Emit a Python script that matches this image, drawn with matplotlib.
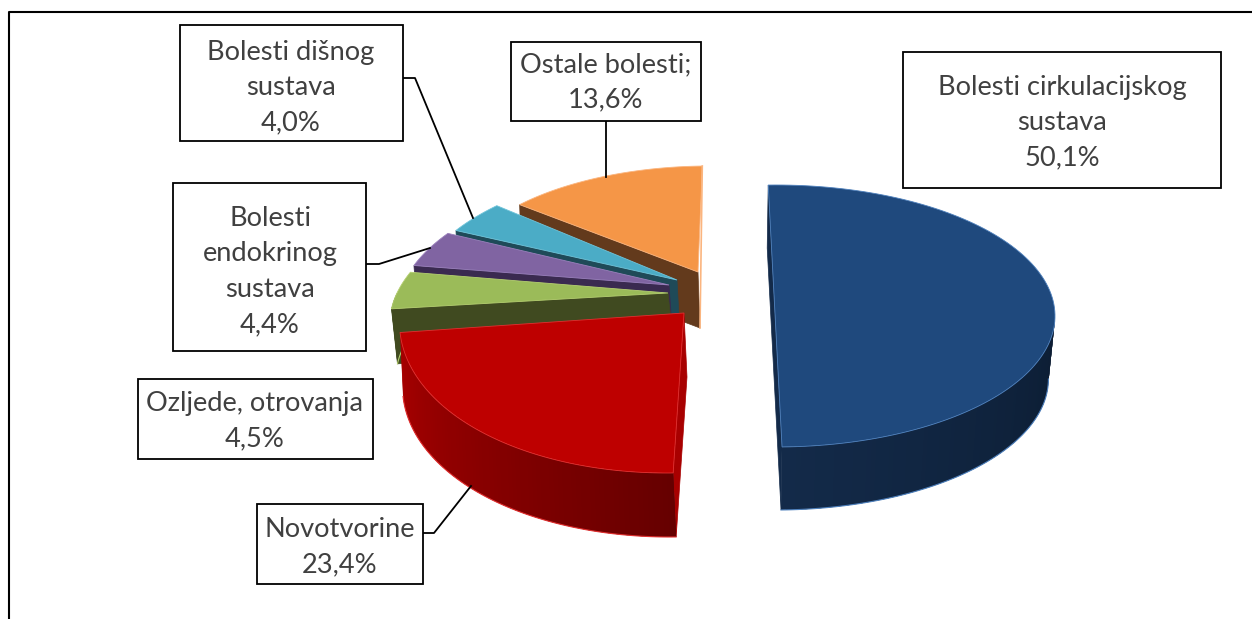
"""3D exploded pie: causes of death, drawn by hand from the slice shares."""
import numpy as np
import matplotlib
matplotlib.use("Agg")
import matplotlib.pyplot as plt
from matplotlib.colors import to_rgb
from matplotlib.patches import Polygon, Rectangle

plt.rcParams["font.family"] = ["Lato", "DejaVu Sans"]

# data, clockwise from the top of the pie
categories = [
    "Bolesti cirkulacijskog\nsustava",
    "Novotvorine",
    "Ozljede, otrovanja",
    "Bolesti\nendokrinog\nsustava",
    "Bolesti dišnog\nsustava",
    "Ostale bolesti;",
]
values = [50.1, 23.4, 4.5, 4.4, 4.0, 13.6]

top_colors = ["#1F497D", "#BE0000", "#9BBB59", "#8064A2", "#4BACC6", "#F59647"]
edge_colors = ["#4F81BD", "#E03030", "#B5D070", "#9A80BC", "#6FC4DA", "#FBB57F"]
wall_colors = ["#132A49", "#A80000", "#404A20", "#3A2A50", "#1F4A58", "#633A1C"]
wall_end_colors = ["#0C1D33", "#650000", "#404A20", "#3A2A50", "#1F4A58", "#633A1C"]

# apex x, apex y, rx, ry, skew (pixels) - perspective differs per slice
apex_x = [776, 684, 668, 669, 677, 698]
apex_y = [316, 313, 293, 285, 280, 272]
radius_x = [279, 284, 271, 266, 258, 240]
radius_y = [131, 160, 130, 122, 117, 106]
skew = [0, 17, 62, 47, 30, 11]
wall_dx = [-1, 3, 6, 4, 3, 2]
wall_dy = [63, 64, 55, 55, 55, 56]
wall_shrink = [0.98, 1, 1, 1, 1, 1]
start_deg = 91.6

# label boxes: left, top, right, bottom, text centre x, first line y
boxes = [
    (903, 52, 1221, 188, 1062, 75),
    (257, 504, 423, 584, 340, 517),
    (138, 379, 373, 459, 255, 391),
    (173, 183, 366, 351, 270, 206),
    (180, 25, 403, 141, 291, 40),
    (511, 42, 701, 121, 606, 52),
]
leader_x = [None, [423, 434, 471], None, [366, 379, 430], [403, 415, 473], [606, 606]]
leader_y = [None, [533, 533, 486], None, [264, 264, 248], [78, 78, 218], [121, 177]]


def ellipse_point(i, t):
    # t in degrees, may be an array
    r = np.radians(t)
    x = apex_x[i] + radius_x[i] * np.cos(r) + skew[i] * np.sin(r)
    y = apex_y[i] - radius_y[i] * np.sin(r)
    return x, y


def draw_slice(ax, i, t0, t1, z):
    ts = np.linspace(t0, t1, 120)
    ax_x, ax_y = ellipse_point(i, ts)
    dx, dy = wall_dx[i], wall_dy[i]

    # radial wall on the front side of the slice
    if i == 0:
        p = np.array(ellipse_point(i, t0))
    else:
        p = np.array([apex_x[i], apex_y[i]])
    q = np.array(ellipse_point(i, t1 if i == 0 else t0))
    ax.add_patch(Polygon([p, p + (dx, dy), q + (dx, dy), q], closed=True,
                         fc=wall_colors[i], ec=wall_colors[i], lw=0.5, zorder=z))

    # outer wall, only where it faces the viewer (sin t < 0)
    lo, hi = max(min(t0, t1), -180), min(max(t0, t1), 0)
    if hi > lo:
        edges = np.arange(lo, hi, 1.0)
        c0, c1 = np.array(to_rgb(wall_colors[i])), np.array(to_rgb(wall_end_colors[i]))
        for a in edges:
            # each strip overlaps the next so no seams show
            seg = np.linspace(a, min(a + 2.5, hi), 5)
            x, y = ellipse_point(i, seg)
            cx = apex_x[i] + (x - apex_x[i]) * wall_shrink[i] + dx
            f = (a - lo) / (hi - lo)
            col = c0 + (c1 - c0) * f
            pts = list(zip(x, y)) + list(zip(cx[::-1], (y + dy)[::-1]))
            ax.add_patch(Polygon(pts, closed=True, fc=col, ec="none", zorder=z))
        # thin light rim on the bottom of the wall
        x, y = ellipse_point(i, np.linspace(lo, hi, 100))
        cx = apex_x[i] + (x - apex_x[i]) * wall_shrink[i] + dx
        ax.plot(cx, y + dy, color=edge_colors[i], lw=0.8, zorder=z + 0.1)

    # top face
    if i == 0:
        pts = list(zip(ax_x, ax_y))
    else:
        pts = [(apex_x[i], apex_y[i])] + list(zip(ax_x, ax_y))
    ax.add_patch(Polygon(pts, closed=True, fc=top_colors[i], ec=edge_colors[i],
                         lw=0.6, zorder=z + 0.2))


fig = plt.figure(figsize=(12.52, 6.19), dpi=100)
ax = fig.add_axes([0, 0, 1, 1])
ax.set_xlim(0, 1252)
ax.set_ylim(619, 0)
ax.axis("off")

# outer chart frame
ax.plot([9, 9, 1252], [619, 12, 12], color="black", lw=1.5, zorder=1)

# angles come from the values, walking clockwise
angles = np.cumsum([0] + [v / sum(values) * 360 for v in values])
spans = [(start_deg - angles[i], start_deg - angles[i + 1]) for i in range(len(values))]

# back to front: orange first, red and blue last
for i in range(len(values)):
    draw_slice(ax, i, spans[i][0], spans[i][1], 2 + (len(values) - i))

# light rim down the right side of the orange slice
qx, qy = ellipse_point(5, spans[5][1])
ax.plot([qx, apex_x[5] + wall_dx[5]], [qy, apex_y[5] + wall_dy[5]],
        color=edge_colors[5], lw=1.2, zorder=7)

# labels and leader lines
for k in range(len(values)):
    if leader_x[k]:
        ax.plot(leader_x[k], leader_y[k], color="black", lw=1.3, zorder=20)
    left, top, right, bottom, tx, ty = boxes[k]
    ax.add_patch(Rectangle((left, top), right - left, bottom - top, fc="white",
                           ec="black", lw=1.3, zorder=21))
    pct = f"{values[k]:.1f}%".replace(".", ",")
    ax.text(tx, ty, categories[k] + "\n" + pct, ha="center", va="top", fontsize=19.6,
            color="#404040", linespacing=1.52, zorder=22)

fig.savefig("out.png", dpi=100)
